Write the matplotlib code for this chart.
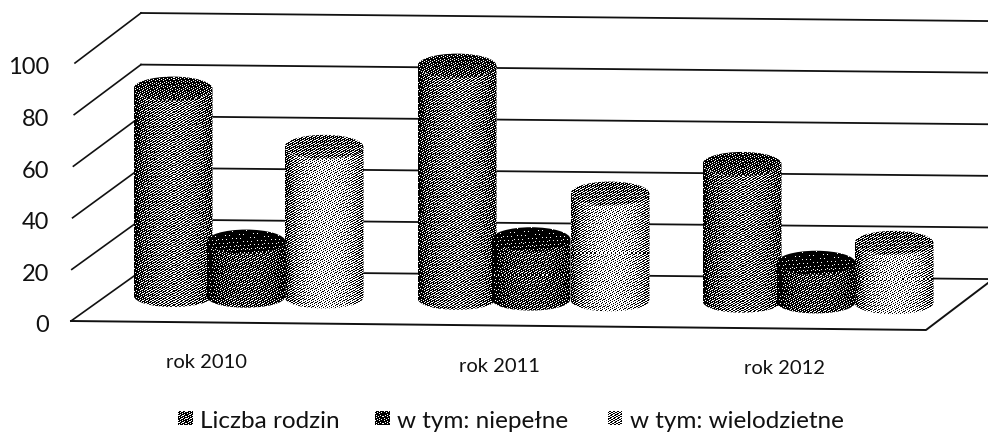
import matplotlib
matplotlib.use("Agg")
import matplotlib.pyplot as plt
import numpy as np
from matplotlib.patches import Ellipse, PathPatch
from matplotlib.path import Path

lata = ["rok 2010", "rok 2011", "rok 2012"]
serie = ["Liczba rodzin", "w tym: niepełne", "w tym: wielodzietne"]
liczba_rodzin = [80, 90, 53]
niepelne = [21, 23, 15]
wielodzietne = [58, 41, 23]
ticki = [0, 20, 40, 60, 80, 100]

# srodki walcow w pikselach
srodki = [[173, 246, 324], [457, 531, 610], [742, 816, 894]]
szerokosc = 79
jasnosc = [(0.12, 0.48), (0.03, 0.32), (0.25, 0.74)]
jasnosc_gora = [0.22, 0.07, 0.38]

px = 2.58  # pikseli na jednostke
spadek = 0.0100


def raster(shade):
    # ukosny raster jak na skanie
    h, w = shade.shape
    jj, ii = np.mgrid[0:h, 0:w]
    prog = (ii * 0.7548776662 + jj * 0.5698402910) % 1
    return (shade > prog).astype(float)


def podstawa(x):
    return 295 + (x - 173) * spadek


def walec(ax, x, wart, nr):
    r = szerokosc / 2
    y0 = podstawa(x)
    y1 = y0 - wart * px
    ry = 12.0
    verts = [(x - r, y1), (x + r, y1), (x + r, y0),
             (x + r, y0 + ry * 1.33), (x - r, y0 + ry * 1.33), (x - r, y0), (x - r, y1)]
    codes = [Path.MOVETO, Path.LINETO, Path.LINETO, Path.CURVE4, Path.CURVE4, Path.CURVE4, Path.LINETO]
    clip = PathPatch(Path(verts, codes), transform=ax.transData, fc="none", ec="none")
    ax.add_patch(clip)

    w = int(szerokosc)
    h = int(y0 + ry - y1) + 2
    t = np.linspace(-1, 1, w)
    lo, hi = jasnosc[nr]
    prof = lo + (hi - lo) * np.clip(1 - (t - 0.05) ** 2, 0, 1) ** 0.6
    shade = np.tile(prof, (h, 1))
    im = ax.imshow(raster(shade), extent=(x - r, x + r, y1 + h, y1), cmap="gray", vmin=0, vmax=1,
                   interpolation="nearest", aspect="auto", zorder=3)
    im.set_clip_path(clip)

    g = Ellipse((x, y1), szerokosc, 2 * ry, fc="none", ec="none", transform=ax.transData)
    ax.add_patch(g)
    hg = int(2 * ry) + 2
    shade_g = np.full((hg, w), jasnosc_gora[nr]) + np.linspace(-0.06, 0.06, hg)[:, None]
    im2 = ax.imshow(raster(shade_g), extent=(x - r, x + r, y1 + ry + 1, y1 - ry - 1), cmap="gray",
                    vmin=0, vmax=1, interpolation="nearest", aspect="auto", zorder=4)
    im2.set_clip_path(g)


plt.rcParams["font.family"] = ["Lato", "DejaVu Sans"]
fig = plt.figure(figsize=(9.88, 4.34), dpi=100)
ax = fig.add_axes([0, 0, 1, 1])

# siatka na tylnej scianie i na boku
for t in ticki:
    y_tyl = 271 - t * px
    ax.plot([141, 988], [y_tyl, y_tyl + 847 * 0.0095], color="#111111", lw=1.3, zorder=1)
    ax.plot([71 + t * 0.04, 141], [321 - t * px, y_tyl], color="#111111", lw=1.2, zorder=1)
    ax.text(49, 326 - t * px, str(t), ha="right", va="center", fontsize=17, color="#111111")

# podloga
ax.plot([71, 926, 988], [321, 330, 283], color="#111111", lw=1.4, zorder=2)

for g, wartosci in enumerate(zip(liczba_rodzin, niepelne, wielodzietne)):
    # kolejnosc rysowania: srodkowy na wierzchu
    for nr in [0, 2, 1]:
        walec(ax, srodki[g][nr], wartosci[nr], nr)

for lab, x, y in zip(lata, [206, 499, 784], [363, 366, 368]):
    ax.text(x, y, lab, ha="center", va="center", fontsize=14.5, color="#111111")

# legenda
leg_x = [178, 375, 608]
for nr, s in enumerate(serie):
    shade = np.full((14, 14), (jasnosc[nr][0] + jasnosc[nr][1]) / 2)
    ax.imshow(raster(shade), extent=(leg_x[nr], leg_x[nr] + 14, 425, 411), cmap="gray", vmin=0, vmax=1,
              interpolation="nearest", aspect="auto")
    ax.text(leg_x[nr] + 22, 421, s, ha="left", va="center", fontsize=17.5, color="#111111")

ax.set_xlim(0, 988)
ax.set_ylim(434, 0)
ax.axis("off")
fig.savefig("out.png", dpi=100)
